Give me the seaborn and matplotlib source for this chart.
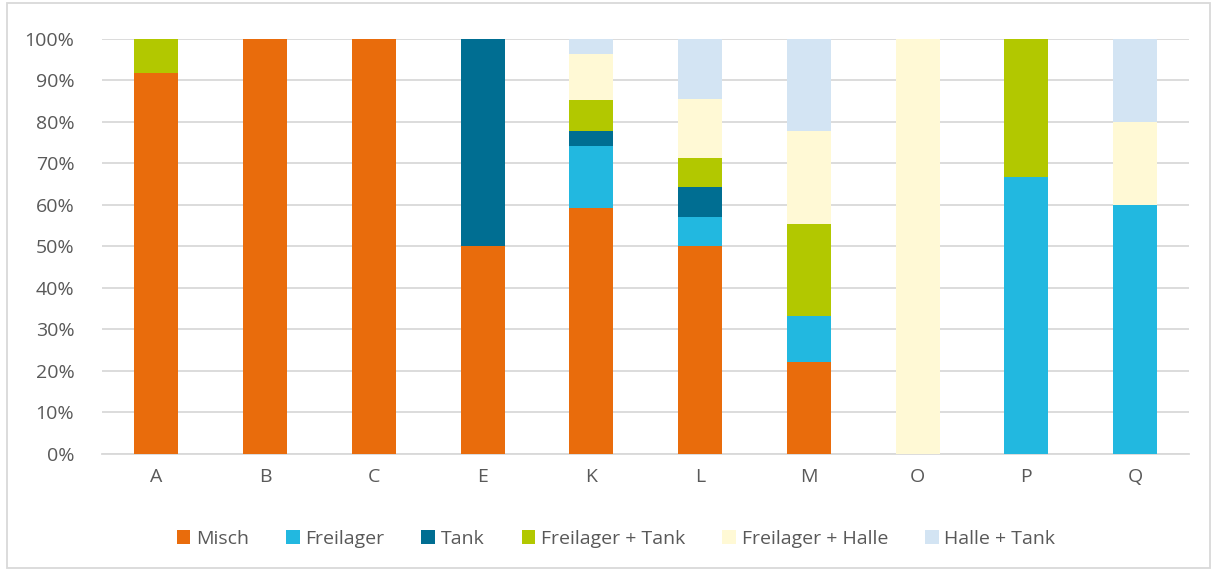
import numpy as np
import pandas as pd
import matplotlib
matplotlib.use("Agg")
import matplotlib.pyplot as plt
from matplotlib.patches import Patch, Rectangle
import seaborn as sns

categories = ["A", "B", "C", "E", "K", "L", "M", "O", "P", "Q"]
series = ["Misch", "Freilager", "Tank", "Freilager + Tank", "Freilager + Halle", "Halle + Tank"]
misch        = [91.7, 100, 100, 50, 59.3, 50.0, 22.2, 0, 0, 0]
freilager    = [0, 0, 0, 0, 14.8, 7.1, 11.1, 0, 66.7, 60]
tank         = [0, 0, 0, 50, 3.7, 7.1, 0, 0, 0, 0]
frei_tank    = [8.3, 0, 0, 0, 7.4, 7.1, 22.2, 0, 33.3, 0]
frei_halle   = [0, 0, 0, 0, 11.1, 14.3, 22.2, 100, 0, 20]
halle_tank   = [0, 0, 0, 0, 3.7, 14.3, 22.2, 0, 0, 20]
yticks = [0, 10, 20, 30, 40, 50, 60, 70, 80, 90, 100]

colors = ["#E96C0C", "#22B8E0", "#006E92", "#B2C800", "#FFF9D5", "#D3E4F3"]

values = [misch, freilager, tank, frei_tank, frei_halle, halle_tank]
df = pd.DataFrame({s: v for s, v in zip(series, values)}, index=categories)
cum = df.cumsum(axis=1)

sns.set_theme(style="white")
plt.rcParams["font.family"] = ["Open Sans", "DejaVu Sans"]

fig = plt.figure(figsize=(12.15, 5.71), dpi=100)
ax = fig.add_axes([0.084, 0.205, 0.895, 0.727])

for s, c in reversed(list(zip(series, colors))):
    sns.barplot(x=categories, y=cum[s].values, color=c, width=0.405,
                saturation=1, ax=ax, linewidth=0, zorder=3)

ax.set_ylim(0, 100)
ax.set_xlim(-0.5, len(categories) - 0.5)
ax.set_yticks(yticks)
ax.set_yticklabels([f"{t}%" for t in yticks])
ax.yaxis.grid(True, color="#D9D9D9", linewidth=1.3, zorder=0)
ax.set_axisbelow(True)
for sp in ["top", "right", "left"]:
    ax.spines[sp].set_visible(False)
ax.spines["bottom"].set_color("#D9D9D9")
ax.spines["bottom"].set_linewidth(1.3)
ax.tick_params(axis="both", colors="#595959", labelsize=14, length=0)
ax.tick_params(axis="y", pad=20)
ax.tick_params(axis="x", pad=10)
ax.set_xlabel("")
ax.set_ylabel("")

handles = [Patch(facecolor=c, edgecolor="none", label=s) for s, c in zip(series, colors)]
leg = fig.legend(handles=handles, loc="center", bbox_to_anchor=(0.507, 0.056), ncol=6,
                 frameon=False, fontsize=14, handlelength=0.7, handleheight=0.7,
                 handletextpad=0.3, columnspacing=1.9, labelcolor="#595959")

fig.patches.append(Rectangle((0.006, 0.005), 0.99, 0.99, transform=fig.transFigure,
                             fill=False, edgecolor="#D9D9D9", linewidth=1.3))

fig.savefig("out.png", dpi=100, facecolor="white")
